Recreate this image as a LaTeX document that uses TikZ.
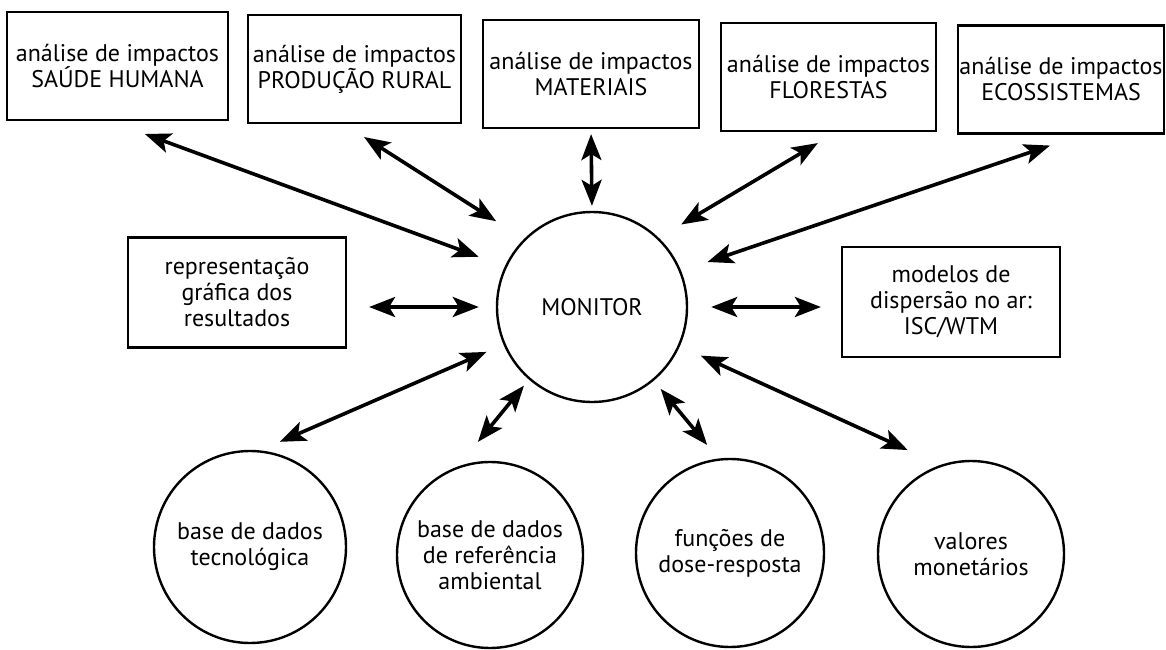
\documentclass[tikz,border=0pt]{standalone}
\usepackage{fontspec}
\setmainfont{PT Sans}
\usetikzlibrary{arrows.meta}

\begin{document}
\begin{tikzpicture}[x=0.5pt, y=0.5pt,
  every node/.style={font=\fontsize{12}{13}\selectfont, align=center},
  impact/.style={draw, line width=1.1pt, minimum height=54pt, inner sep=0pt},
  tool/.style={draw, line width=1.1pt, minimum width=109pt, minimum height=55pt, inner sep=0pt},
  data/.style={draw, circle, line width=1.2pt, inner sep=0pt},
  >={Stealth[length=13pt, width=10pt, inset=3pt]},
  link/.style={<->, line width=1.8pt}]
\path[use as bounding box, fill=white] (0,0) rectangle (1166,649);

% Impact analyses
\node[impact, minimum width=110.5pt] (saude) at (117.5,583) {análise de impactos\\SAÚDE HUMANA};
\node[impact, minimum width=106.5pt] (rural) at (354.5,580) {análise de impactos\\PRODUÇÃO RURAL};
\node[impact, minimum width=108pt] (mat) at (591,575) {análise de impactos\\MATERIAIS};
\node[impact, minimum width=107.5pt] (flor) at (828.5,572) {análise de impactos\\FLORESTAS};
\node[impact, minimum width=103pt] (eco) at (1061,569.5) {análise de impactos\\ECOSSISTEMAS};

% Centre
\node[data, minimum size=95pt] (mon) at (592,342) {MONITOR};
\node[tool] (repr) at (237,356.5) {representação\\gráfica dos\\resultados};
\node[tool] (disp) at (951,347) {modelos de\\dispersão no ar:\\ISC/WTM};

% Data bases
\node[data, minimum size=96pt] (tec) at (250,102) {base de dados\\tecnológica};
\node[data, minimum size=93pt] (ref) at (490,94) {base de dados\\de referência\\ambiental};
\node[data, minimum size=94pt] (dose) at (730,96) {funções de\\dose-resposta};
\node[data, minimum size=93pt] (val) at (971,95) {valores\\monetários};

% Links to impact analyses
\draw[link, shorten <=18.7pt, shorten >=13.9pt] (saude.262) -- (mon.155);
\draw[link, shorten <=12pt, shorten >=16.5pt] (rural.259) -- (mon.135);
\draw[link, shorten <=2.5pt, shorten >=2.5pt] (mat.south) -- (mon.north);
\draw[link, shorten <=10.7pt, shorten >=13pt] (flor.278) -- (mon.46);
\draw[link, shorten <=17pt, shorten >=13.9pt] (eco.291) -- (mon.22);

% Side links
\draw[link, shorten <=11pt, shorten >=8.5pt] (mon.west -| repr.east) -- (mon.west);
\draw[link, shorten <=11.5pt, shorten >=10pt] (mon.east) -- (mon.east -| disp.west);

% Links to data
\draw[link, shorten <=10.7pt, shorten >=9.2pt] (tec.84) -- (mon.203);
\draw[link, shorten <=15.9pt, shorten >=3.9pt] (ref.110) -- (mon.229);
\draw[link, shorten <=8.8pt, shorten >=5.3pt] (dose.97) -- (mon.310);
\draw[link, shorten <=17.9pt, shorten >=11.5pt] (val.109) -- (mon.336);
\end{tikzpicture}
\end{document}
